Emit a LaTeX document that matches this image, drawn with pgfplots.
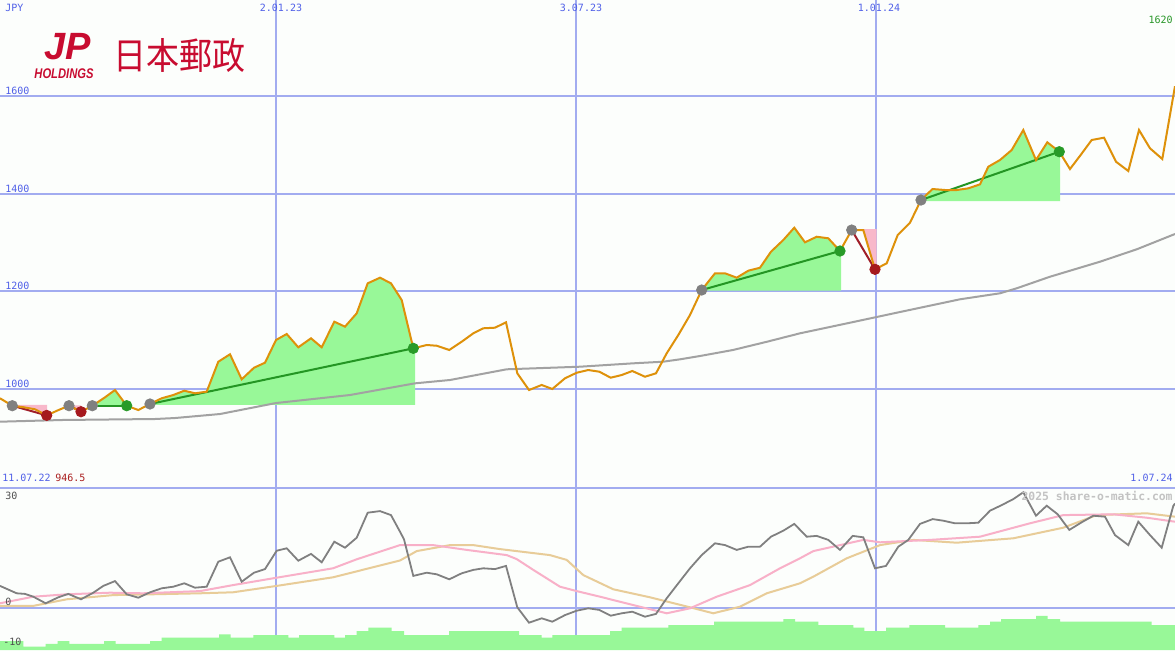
\documentclass[border=0pt]{standalone}
\usepackage{pgfplots}
\pgfplotsset{compat=1.18}
\usepackage{fontspec}
\setmainfont{DejaVu Sans Mono}
\newfontfamily\cjk{Noto Sans CJK JP}
\newfontfamily\logofont{Liberation Sans}
\definecolor{bgcol}{RGB}{252,254,252}
\definecolor{gridblue}{RGB}{162,172,240}
\definecolor{sepblue}{RGB}{118,132,240}
\definecolor{lblblue}{RGB}{80,96,232}
\definecolor{priceor}{RGB}{222,145,10}
\definecolor{magray}{RGB}{162,162,162}
\definecolor{palegr}{RGB}{152,248,152}
\definecolor{pinkfill}{RGB}{248,184,202}
\definecolor{trendgr}{RGB}{36,150,36}
\definecolor{trendrd}{RGB}{160,30,40}
\definecolor{dotgr}{RGB}{40,155,40}
\definecolor{dotrd}{RGB}{165,25,30}
\definecolor{dotgy}{RGB}{128,128,128}
\definecolor{oscgray}{RGB}{128,128,128}
\definecolor{oscpink}{RGB}{248,176,200}
\definecolor{osctan}{RGB}{232,204,152}
\definecolor{lblgreen}{RGB}{40,150,40}
\definecolor{lblred}{RGB}{170,30,30}
\definecolor{lbldark}{RGB}{80,80,80}
\definecolor{wmark}{RGB}{195,195,195}
\definecolor{jpred}{RGB}{200,12,48}

\pgfplotstableread{
x y
0 981.5
12.3 966.3
24 963
35 959
46.7 946.5
58 957
69 966.3
81 954
92.3 966.3
104 982
115 998.4
126.7 966.3
138.3 957.5
150 969.8
161.7 981.5
173.3 988.2
184.3 997
195 991.7
206.7 995
218.3 1056.3
230 1071.5
241.7 1020.3
254 1044
265 1054.3
276 1100.7
286.7 1113
298.3 1085.8
311 1104.2
321.7 1085.8
334.3 1138.2
345 1128
356.7 1155.3
367.7 1216.7
380 1228.2
391 1216.7
401.7 1182.5
413.3 1083.7
426.7 1090.5
436.7 1089
449.3 1080.3
461.7 1097.2
473.3 1114.4
483.3 1124.7
495 1125.9
506 1136.9
517.3 1032.6
529 998.4
541.7 1008.7
552.3 1000.5
565 1022.4
576.7 1033.8
588.3 1039.3
599.3 1035.9
610.7 1023.6
621.7 1029.1
632.3 1037.3
645 1025.6
656 1032.6
666.7 1073.5
678.3 1110.9
690 1151.9
701.7 1203
715 1237.2
725 1237.2
736.7 1228.2
748.3 1242.5
760 1248.6
771 1281.4
783.3 1305.3
794.3 1330.5
805 1300.6
816.7 1312
828.3 1308.8
840 1282.8
851.7 1325.7
863.3 1325.7
875 1245.3
886.7 1257.6
897.7 1315.5
910 1340.7
921 1387.1
932.5 1409.6
945 1407.6
956.7 1407.6
968.3 1411
980 1419.2
988.3 1455.2
1000 1469
1011.7 1489.4
1023.3 1530.3
1036 1468.9
1047.3 1505.2
1059.3 1485.9
1070 1450.5
1081 1480.2
1091.7 1509.9
1104 1514.6
1116 1465.5
1128.3 1446.4
1139 1530.3
1150 1492.9
1162.3 1471
1175 1620
}\pricetab

\pgfplotstableread{
x y
0 933.6
63 937.1
155 939.1
175 941.1
220 949.3
276 971.8
350 988.2
415 1012.1
450 1018.9
506.7 1040.8
580 1046.1
633 1053
663 1056.3
680 1061.2
700 1068
733 1080.3
767 1097.2
800 1114.4
850 1136.1
900 1158
960 1184
1000 1196.3
1016.7 1206.5
1050 1230.2
1100 1260.9
1136.7 1286.3
1175 1317.6
}\matab

\pgfplotstableread{
x y
0 5.4
16.7 3.55
25 3.4
33.3 2.7
45.7 1.05
58.3 2.55
68.3 3.4
81 2.05
93.3 3.7
103.3 5.4
115 6.6
126.7 3.3
138.3 2.45
150 3.8
161.7 4.8
173.3 5.2
184.3 6.05
195 4.95
206.7 5.2
218.3 11.45
230 12.55
241.7 6.45
254 8.7
265 9.6
276.7 14.2
286.7 14.8
298.3 11.7
311 13.4
321.7 11.3
334.3 16.45
345 14.95
356.7 17.45
367.7 23.7
380 24.1
391 23.1
400 18.95
404 17.05
413.3 7.9
426.7 8.7
436.7 8.3
449.3 7.05
461.7 8.55
473.3 9.4
483.3 9.8
495 9.6
506 10.4
517.3 0.05
529 -3.8
541.7 -2.7
552.3 -3.55
565 -1.9
576.7 -0.8
588.3 -0.2
599.3 -0.6
610.7 -2.05
621.7 -1.45
632.3 -1.05
645 -2.3
656 -1.6
666.7 2.3
678.3 6.05
690 9.8
701.7 13.1
715 16.05
725 15.6
736.7 14.4
748.3 15.2
760 15.2
771 17.7
783.3 19.2
794.3 20.9
806.7 17.7
816.7 17.9
828.3 16.9
840 14.4
852.7 17.9
863.3 17.55
875 9.8
886 10.4
898.3 15.2
908.3 16.9
920 20.9
932.7 22.1
943.3 21.7
955 21.05
966.7 21.05
978.3 21.2
990 24.2
1001.7 25.6
1013.3 27.1
1023.3 28.8
1036 22.95
1046.7 25.45
1057.7 23.3
1069.3 19.4
1081.7 21.3
1093.3 22.95
1105 22.7
1115 18.1
1128.3 15.6
1138.3 21.45
1150 18.1
1161.7 14.95
1173.3 25.4
1175 26.0
}\oscgraytab

\pgfplotstableread{
x y
0 1.05
33.3 2.7
66.7 3.3
110 3.7
143 3.55
200 4.1
233 5.6
276.7 7.45
333 9.8
356.7 12.05
400 15.6
433 15.6
466.7 14.4
506.7 13.1
516.7 12.1
533.3 9.4
560 5.2
576.7 4.1
600 2.7
633.3 0.6
666.7 -1.45
690 -0.2
716.7 2.7
750 5.6
780 9.8
800 12.3
813.3 14.1
863.3 16.9
880 16.3
930 16.9
980 17.7
1030 21.05
1063.3 23.1
1113.3 23.3
1146.7 22.45
1175 21.45
}\oscpinktab

\pgfplotstableread{
x y
0 0.4
33.3 0.4
66.7 2.05
113.3 3.1
200 3.55
233 3.8
276.7 5.4
333 7.55
400 11.75
416.7 14.1
450 15.6
473.3 15.6
500 14.6
550 13.1
566.7 11.9
583.3 8.1
613.3 4.55
650 2.55
690 0.05
713.3 -1.45
740 0.2
766.7 3.55
800 6.05
813.3 7.7
846.7 12.3
880 15.6
913.3 16.9
956.7 16.2
1013.3 17.3
1063.3 19.95
1096.7 23.1
1146.7 23.55
1175 22.7
}\osctantab

\pgfplotstableread{
x y
0 -10.625
0 -8.4
23.3 -9.8
45.7 -9.1
57.7 -8.4
69.3 -9.1
104 -8.4
115.7 -9.1
150 -8.4
161.7 -7.55
219 -6.7
230.7 -7.55
253.3 -6.9
288.3 -7.55
299 -6.9
334.3 -7.55
345 -6.9
356.7 -5.9
368.3 -5.05
391.7 -5.9
404 -6.9
449 -5.9
519 -6.9
541.7 -7.55
552.3 -6.9
610 -5.9
621.7 -5.05
668.3 -4.4
714 -3.55
783.3 -2.9
795 -3.55
818.3 -4.4
853.3 -5.05
864.3 -5.9
886 -5.05
909.3 -4.4
945 -5.05
978.3 -4.4
990 -3.55
1001 -2.9
1036 -2.1
1047.7 -2.9
1060 -3.55
1151.7 -4.4
1175 -4.4
1175 -10.625
}\bartab

\begin{document}
\begin{tikzpicture}[x=0.5pt,y=0.5pt]
\fill[bgcol] (0,0) rectangle (1175,650);
% ---------- top panel ----------
\begin{axis}[
  at={(0pt,81.5pt)}, anchor=south west,
  scale only axis, width=587.5pt, height=243.5pt,
  xmin=0, xmax=1175, ymin=800, ymax=1796.3,
  axis line style={draw=none}, tick style={draw=none},
  xtick={276,576,876}, ytick={1000,1200,1400,1600},
  xticklabels={}, yticklabels={},
  xmajorgrids, ymajorgrids,
  x grid style={gridblue, line width=0.65pt},
  y grid style={gridblue, line width=1pt},
]
% green areas
\addplot[fill=palegr, draw=none] coordinates {(92.3,966.3) (104,982) (115,998.4) (126.7,966.3)};
\addplot[fill=palegr, draw=none] coordinates {(150,968) (150,969.8) (161.7,981.5) (173.3,988.2) (184.3,997) (195,991.7) (206.7,995) (218.3,1056.3) (230,1071.5) (241.7,1020.3) (254,1044) (265,1054.3) (276,1100.7) (286.7,1113) (298.3,1085.8) (311,1104.2) (321.7,1085.8) (334.3,1138.2) (345,1128) (356.7,1155.3) (367.7,1216.7) (380,1228.2) (391,1216.7) (401.7,1182.5) (413.3,1083.7) (415,1084) (415,968)};
\addplot[fill=palegr, draw=none] coordinates {(701.7,1201.6) (701.7,1203) (715,1237.2) (725,1237.2) (736.7,1228.2) (748.3,1242.5) (760,1248.6) (771,1281.4) (783.3,1305.3) (794.3,1330.5) (805,1300.6) (816.7,1312) (828.3,1308.8) (840,1282.8) (841,1284) (841,1201.6)};
\addplot[fill=palegr, draw=none] coordinates {(921,1385) (921,1387.1) (932.5,1409.6) (945,1407.6) (956.7,1407.6) (968.3,1411) (980,1419.2) (988.3,1455.2) (1000,1469) (1011.7,1489.4) (1023.3,1530.3) (1036,1468.9) (1047.3,1505.2) (1059.3,1485.9) (1060,1484.5) (1060,1385)};
% pink areas
\addplot[fill=pinkfill, draw=none] coordinates {(12.3,968) (12.3,966.3) (24,963) (35,959) (46.7,946.5) (47,946.5) (47,968)};
\addplot[fill=pinkfill, draw=none] coordinates {(69,967) (69,966.3) (81,954) (81,967)};
\addplot[fill=pinkfill, draw=none] coordinates {(851.7,1327.8) (851.7,1325.7) (863.3,1325.7) (875,1245.3) (876.7,1247) (876.7,1327.8)};
% moving average
\addplot[magray, line width=1pt] table {\matab};
% trend lines
\addplot[trendrd, line width=1pt] coordinates {(12.3,966.3) (46.7,946.5)};
\addplot[trendrd, line width=1pt] coordinates {(69,966.3) (81,954)};
\addplot[trendgr, line width=1pt] coordinates {(92.3,966.3) (126.7,966.3)};
\addplot[trendgr, line width=1pt] coordinates {(150,969.8) (413.3,1083.7)};
\addplot[trendgr, line width=1pt] coordinates {(701.7,1203) (840,1282.8)};
\addplot[trendrd, line width=1pt] coordinates {(851.7,1325.7) (875,1245.3)};
\addplot[trendgr, line width=1pt] coordinates {(921,1387.1) (1059.3,1485.9)};
% dots
\addplot[only marks, mark=*, mark size=2.6pt, mark options={fill=dotgy, draw=dotgy}] coordinates {(12.3,966.3) (69,966.3) (92.3,966.3) (150,969.8) (701.7,1203) (851.7,1325.7) (921,1387.1)};
\addplot[only marks, mark=*, mark size=2.6pt, mark options={fill=dotrd, draw=dotrd}] coordinates {(46.7,946.5) (81,954) (875,1245.3)};
\addplot[only marks, mark=*, mark size=2.6pt, mark options={fill=dotgr, draw=dotgr}] coordinates {(126.7,966.3) (413.3,1083.7) (840,1282.8) (1059.3,1485.9)};
% price
\addplot[priceor, line width=1pt] table {\pricetab};
\end{axis}
% ---------- bottom panel ----------
\begin{axis}[
  at={(0pt,0pt)}, anchor=south west,
  scale only axis, width=587.5pt, height=81.5pt,
  xmin=0, xmax=1175, ymin=-10.625, ymax=30.125,
  axis line style={draw=none}, tick style={draw=none},
  xtick={276,576,876}, ytick={0},
  xticklabels={}, yticklabels={},
  xmajorgrids, ymajorgrids,
  x grid style={gridblue, line width=0.65pt},
  y grid style={gridblue, line width=1pt},
  extra y ticks={30}, extra y tick labels={},
  extra y tick style={grid style={sepblue, line width=1.1pt}},
]
\addplot[const plot, fill=palegr, draw=none] table {\bartab};
\addplot[osctan, line width=1pt] table {\osctantab};
\addplot[oscpink, line width=1pt] table {\oscpinktab};
\addplot[oscgray, line width=0.9pt] table {\oscgraytab};
\end{axis}
% ---------- texts ----------
\begin{scope}[every node/.style={inner sep=0pt, font=\fontsize{5}{6}\selectfont}]
\node[anchor=west, lblblue] at (5,642) {JPY};
\node[lblblue] at (281,642) {2.01.23};
\node[lblblue] at (581,642) {3.07.23};
\node[lblblue] at (879,642) {1.01.24};
\node[anchor=east, lblgreen] at (1173,630) {1620};
\node[anchor=west, lblblue] at (5,559) {1600};
\node[anchor=west, lblblue] at (5,461) {1400};
\node[anchor=west, lblblue] at (5,364) {1200};
\node[anchor=west, lblblue] at (5,266) {1000};
\node[anchor=west, lblblue] at (2,172) {11.07.22};
\node[anchor=west, lblred] at (55,172) {946.5};
\node[anchor=east, lblblue] at (1173,172) {1.07.24};
\node[anchor=west, lbldark] at (5,154) {30};
\node[anchor=west, lbldark] at (5,48) {0};
\node[anchor=west, lbldark] at (3,8) {-10};
\node[anchor=east, wmark, font=\fontsize{5.7}{7}\selectfont\bfseries] at (1173,154) {2025 share-o-matic.com};
\end{scope}
% logo
\node[inner sep=0pt, jpred, font=\logofont\fontsize{19}{21}\selectfont\bfseries\itshape] at (68,603) {JP};
\node[inner sep=0pt, jpred, xscale=0.8, font=\logofont\fontsize{7}{8}\selectfont\bfseries\itshape] at (64,576) {HOLDINGS};
\node[inner sep=0pt, jpred, yscale=1.12, font=\cjk\fontsize{16.5}{18}\selectfont] at (179,595) {日本郵政};
\pgfresetboundingbox
\path (0,0) rectangle (1175,650);
\end{tikzpicture}
\end{document}
